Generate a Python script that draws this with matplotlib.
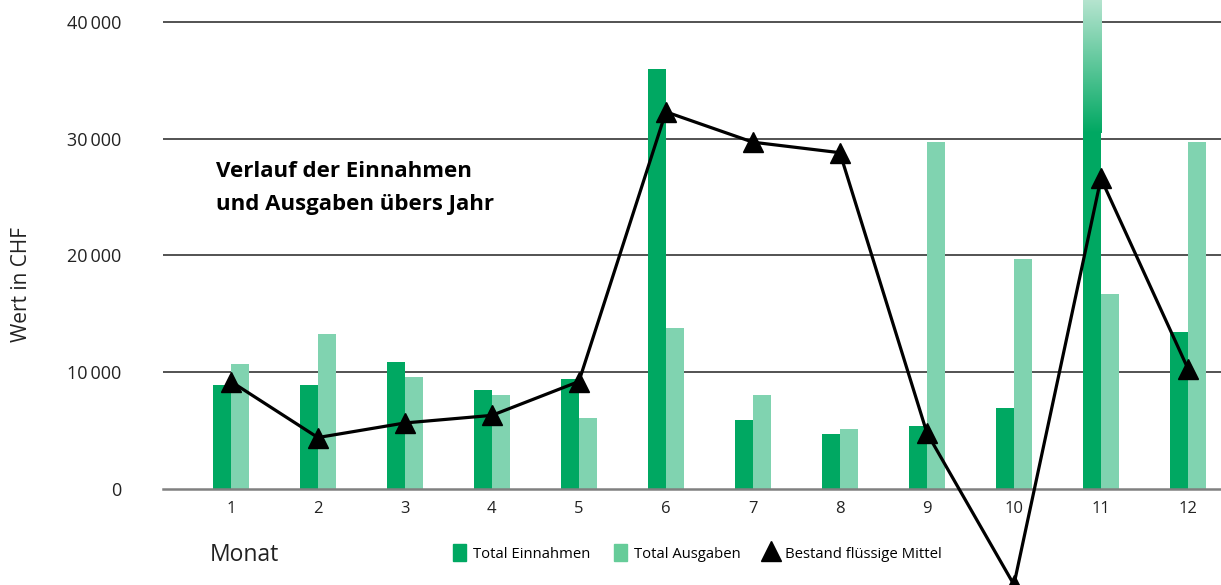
import numpy as np
import matplotlib.pyplot as plt
from matplotlib.colors import LinearSegmentedColormap
from matplotlib.patches import Patch
from matplotlib.lines import Line2D

plt.rcParams['font.family'] = ['Open Sans', 'DejaVu Sans']

# data
months = [1, 2, 3, 4, 5, 6, 7, 8, 9, 10, 11, 12]
einnahmen = [8900, 8900, 10900, 8500, 9400, 36000, 5900, 4700, 5400, 6900, 51300, 13400]
ausgaben = [10700, 13300, 9600, 8050, 6100, 13800, 8050, 5100, 29700, 19700, 16700, 29700]
bestand = [9200, 4400, 5650, 6300, 9200, 32300, 29700, 28800, 4800, -8200, 26600, 10300]
yticks = [0, 10000, 20000, 30000, 40000]

dark = '#00a862'
light = '#80d3b0'

fig = plt.figure(figsize=(12.21, 5.85), dpi=100)
ax = fig.add_axes([163 / 1221, 0, 1 - 163 / 1221, 1])

# grid lines
for t in yticks[1:]:
    ax.axhline(t, color='#444444', lw=1.3, zorder=1)

w = 0.21
x = np.array(months)
bars_e = ax.bar(x - w, einnahmen, width=w, align='edge', color=dark, zorder=2)
bars_a = ax.bar(x, ausgaben, width=w, align='edge', color=light, zorder=2)

ax.set_xlim(0.22, 12.38)
ax.set_ylim(-8230, 41880)

# fade the clipped bar of month 11 towards the top
b = bars_e[10]
cmap = LinearSegmentedColormap.from_list('fade', [dark, '#b5e4cf'])
grad = np.linspace(0, 1, 256).reshape(-1, 1)
img = ax.imshow(grad, cmap=cmap, origin='lower', aspect='auto',
                extent=[b.get_x(), b.get_x() + b.get_width(), 30500, ax.get_ylim()[1]],
                zorder=2.5)
img.set_clip_path(b)
ax.set_xlim(0.22, 12.38)
ax.set_ylim(-8230, 41880)

ax.plot(x, bestand, color='black', lw=2.3, marker='^', markersize=14, zorder=4)

# axes styling
for s in ['top', 'right', 'left']:
    ax.spines[s].set_visible(False)
ax.spines['bottom'].set_position(('data', 0))
ax.spines['bottom'].set_color('#808080')
ax.spines['bottom'].set_linewidth(1.8)
ax.spines['bottom'].set_zorder(3)
ax.set_xticks(months)
ax.set_xticklabels([str(m) for m in months])
ax.set_yticks(yticks)
ax.set_yticklabels([f'{t:,}'.replace(',', '\u2009') for t in yticks])
ax.tick_params(axis='x', length=0, pad=9, labelsize=12, colors='#222222')
ax.tick_params(axis='y', length=0, pad=30, labelsize=13, colors='#222222')

fig.text(22 / 1221, 1 - 285 / 585, 'Wert in CHF', rotation=90, va='center', ha='center',
         fontsize=15, color='#222222')
fig.text(216 / 1221, 1 - 188 / 585, 'Verlauf der Einnahmen\nund Ausgaben übers Jahr',
         fontsize=16, fontweight='bold', va='center', ha='left', linespacing=1.75)
fig.text(210 / 1221, 1 - 555 / 585, 'Monat', fontsize=16.5, va='center', ha='left',
         color='#222222')

handles = [Patch(color=dark), Patch(color='#66cc99'),
           Line2D([], [], color='black', marker='^', lw=0, markersize=14)]
fig.legend(handles, ['Total Einnahmen', 'Total Ausgaben', 'Bestand flüssige Mittel'],
           loc='center', bbox_to_anchor=(697 / 1221, 1 - 553 / 585), ncol=3, frameon=False,
           fontsize=10.7, handlelength=0.9, handleheight=1.3, handletextpad=0.45,
           columnspacing=1.6)

fig.savefig('out.png', dpi=100)
